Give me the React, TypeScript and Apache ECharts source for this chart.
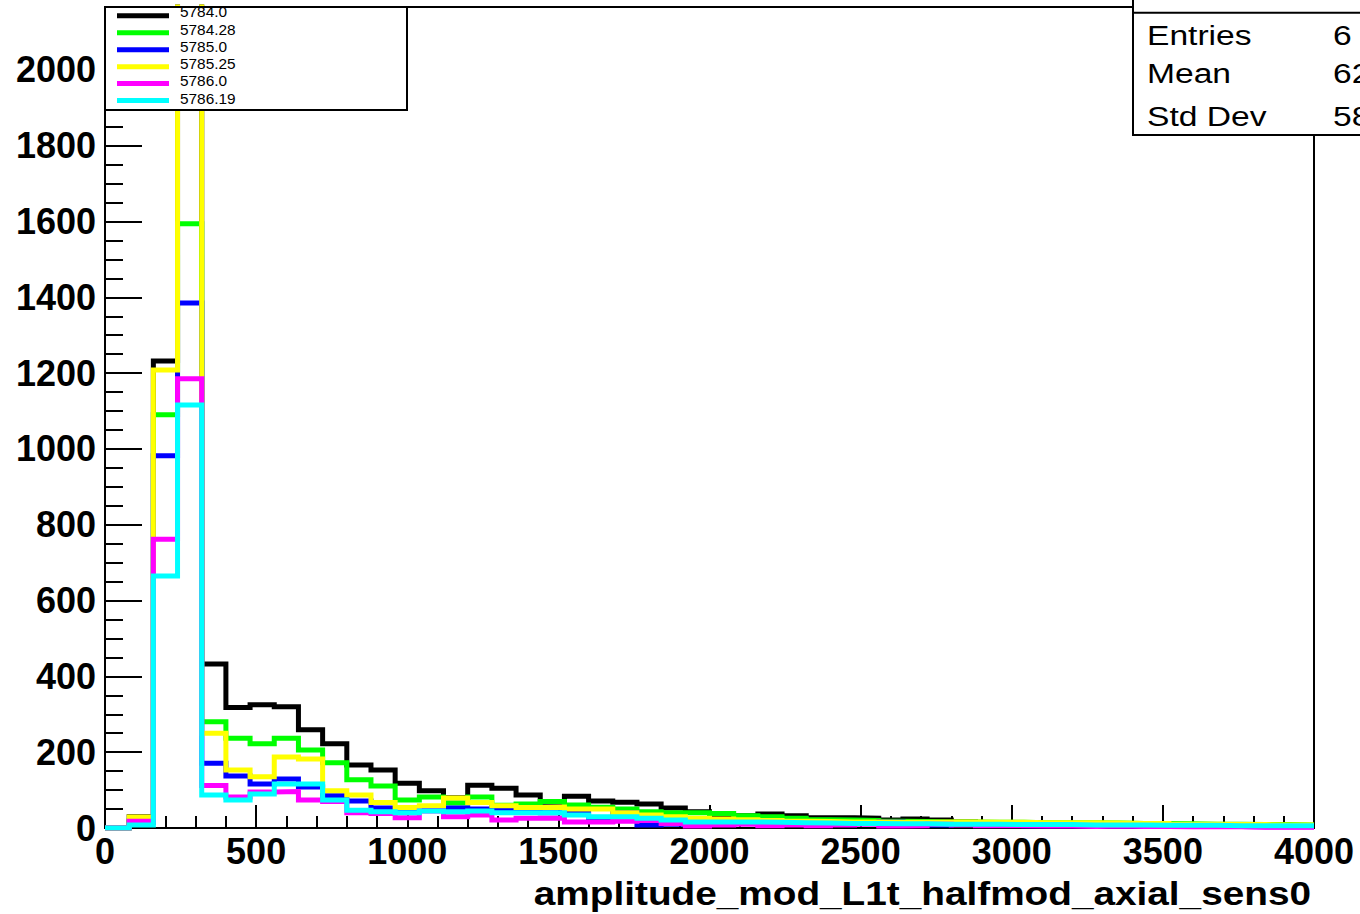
import React, { useEffect, useRef } from "react";
import * as echarts from "echarts";

const BIN_WIDTH = 80;
const X_MIN = 0;
const X_MAX = 4000;
const Y_MAX = 2166;

const seriesNames = ["5784.0", "5784.28", "5785.0", "5785.25", "5786.0", "5786.19"];
const seriesColors = ["#000000", "#00ff00", "#0000ff", "#ffff00", "#ff00ff", "#00ffff"];

const black = [
  0, 30, 1232, 2400, 433, 318, 325, 320, 259, 222,
  166, 153, 118, 98, 80, 113, 105, 87, 68, 84,
  71, 68, 63, 53, 43, 27, 32, 37, 32, 27,
  27, 26, 21, 24, 21, 16, 14, 13, 12, 11,
  10, 10, 9, 8, 7, 6, 6, 5, 4, 4,
];
const green = [
  0, 20, 1090, 1594, 280, 237, 222, 237, 206, 172,
  127, 111, 74, 82, 66, 82, 60, 63, 70, 61,
  55, 50, 43, 40, 40, 38, 32, 30, 26, 22,
  21, 20, 18, 17, 16, 16, 15, 15, 14, 14,
  14, 13, 12, 12, 11, 10, 10, 9, 9, 8,
];
const blue = [
  0, 15, 982, 1385, 171, 137, 116, 129, 108, 85,
  71, 53, 50, 50, 53, 50, 50, 45, 40, 40,
  18, 40, 8, 10, 12, 10, 12, 10, 12, 8,
  10, 12, 16, 10, 8, 10, 8, 8, 6, 6,
  6, 5, 5, 5, 4, 4, 4, 3, 3, 3,
];
const yellow = [
  0, 29, 1208, 2600, 250, 153, 135, 187, 182, 98,
  87, 67, 54, 59, 79, 67, 59, 54, 55, 50,
  50, 40, 34, 30, 26, 24, 22, 20, 18, 17,
  16, 16, 15, 15, 16, 16, 15, 15, 14, 14,
  14, 13, 12, 12, 10, 10, 9, 9, 8, 8,
];
const magenta = [
  0, 18, 762, 1185, 112, 82, 95, 96, 74, 70,
  40, 38, 27, 45, 30, 34, 21, 26, 26, 16,
  16, 18, 20, 12, 5, 8, 10, 6, 8, 6,
  8, 10, 5, 6, 10, 8, 6, 6, 5, 5,
  4, 5, 4, 4, 3, 3, 3, 2, 2, 2,
];
const cyan = [
  0, 8, 665, 1116, 87, 74, 90, 116, 116, 74,
  47, 43, 40, 45, 43, 45, 40, 40, 40, 34,
  30, 30, 26, 21, 16, 16, 16, 15, 14, 13,
  12, 12, 11, 11, 10, 10, 10, 9, 9, 9,
  8, 8, 8, 7, 7, 7, 6, 6, 6, 6,
];
const seriesValues = [black, green, blue, yellow, magenta, cyan];

const xTitle = "amplitude_mod_L1t_halfmod_axial_sens0";
const statsLabels = ["Entries", "Mean", "Std Dev"];
const statsValues = ["6", "62", "58"];

const FONT = "'Liberation Sans', Arial, Helvetica, sans-serif";

function histData(values: number[]) {
  const pts: [number, number][] = values.map((v, i) => [X_MIN + i * BIN_WIDTH, v]);
  pts.push([X_MAX, values[values.length - 1]]);
  return pts;
}

export default function App() {
  const ref = useRef<HTMLDivElement>(null);
  useEffect(() => {
    if (!ref.current) return;
    const chart = echarts.init(ref.current, undefined, { renderer: "svg" });

    const legendLineY = [15.8, 32.8, 49.8, 66.7, 83.5, 100.5];
    const legendTextY = [12.3, 30, 47.7, 64.3, 81.7, 99.3];

    const graphics: any[] = [];
    graphics.push({ type: "rect", z: 100, shape: { x: 105, y: 7, width: 302, height: 103 }, style: { fill: "#ffffff" } });
    seriesNames.forEach((name, i) => {
      graphics.push({
        type: "line", z: 101,
        shape: { x1: 117, y1: legendLineY[i], x2: 169, y2: legendLineY[i] },
        style: { stroke: seriesColors[i], lineWidth: 5 },
      });
      graphics.push({
        type: "text", z: 101, x: 180, y: legendTextY[i], scaleX: 1.1,
        style: { text: name, fontSize: 14, fontFamily: FONT, fill: "#000", align: "left", verticalAlign: "middle" },
      });
    });
    graphics.push({ type: "rect", z: 102, shape: { x: 105, y: 7, width: 302, height: 103 }, style: { fill: "none", stroke: "#000", lineWidth: 2 } });

    graphics.push({ type: "rect", z: 100, shape: { x: 1133, y: -5, width: 240, height: 140 }, style: { fill: "#ffffff", stroke: "#000", lineWidth: 2 } });
    graphics.push({ type: "line", z: 101, shape: { x1: 1133, y1: 12.7, x2: 1360, y2: 12.7 }, style: { stroke: "#000", lineWidth: 2 } });
    const statsY = [35, 73, 116];
    statsLabels.forEach((t, i) => {
      graphics.push({
        type: "text", z: 101, x: 1147, y: statsY[i], scaleX: 1.2,
        style: { text: t, fontSize: 28, fontFamily: FONT, fill: "#000", align: "left", verticalAlign: "middle" },
      });
      graphics.push({
        type: "text", z: 101, x: 1333, y: statsY[i], scaleX: 1.2,
        style: { text: statsValues[i], fontSize: 28, fontFamily: FONT, fill: "#000", align: "left", verticalAlign: "middle" },
      });
    });

    graphics.push({
      type: "text", z: 101, x: 1311, y: 893, scaleX: 1.14,
      style: { text: xTitle, fontSize: 34, fontWeight: "bold", fontFamily: FONT, fill: "#000", align: "right", verticalAlign: "middle" },
    });

    const plain = (v: number) => String(v);

    chart.setOption({
      animation: false,
      backgroundColor: "#ffffff",
      grid: {
        left: 105, right: 46, top: 7, bottom: 86,
        show: true, borderColor: "#000", borderWidth: 2, backgroundColor: "transparent",
        containLabel: false,
      },
      xAxis: {
        type: "value", min: X_MIN, max: X_MAX, interval: 500,
        axisLine: { show: true, onZero: false, lineStyle: { color: "#000", width: 2 } },
        axisTick: { show: true, inside: true, length: 23, lineStyle: { color: "#000", width: 2 } },
        minorTick: { show: true, splitNumber: 5, length: 12, lineStyle: { color: "#000", width: 2 } },
        splitLine: { show: false },
        axisLabel: { color: "#000", fontSize: 36, fontWeight: "bold", fontFamily: FONT, margin: 5, formatter: plain },
      },
      yAxis: {
        type: "value", min: 0, max: Y_MAX, interval: 200,
        axisLine: { show: true, lineStyle: { color: "#000", width: 2 } },
        axisTick: { show: true, inside: true, length: 37, lineStyle: { color: "#000", width: 2 } },
        minorTick: { show: true, splitNumber: 4, length: 18, lineStyle: { color: "#000", width: 2 } },
        splitLine: { show: false },
        axisLabel: { color: "#000", fontSize: 36, fontWeight: "bold", fontFamily: FONT, margin: 9, showMaxLabel: false, formatter: plain },
      },
      series: seriesNames.map((name, i) => ({
        name,
        type: "line",
        step: "end",
        data: histData(seriesValues[i]),
        showSymbol: false,
        symbol: "none",
        clip: true,
        lineStyle: { color: seriesColors[i], width: 5, join: "miter" },
        z: 2 + i,
      })),
      graphic: { elements: graphics },
    });
    return () => chart.dispose();
  }, []);
  return <div ref={ref} style={{ position: "fixed", left: 0, top: 0, width: 1360, height: 914 }} />;
}
